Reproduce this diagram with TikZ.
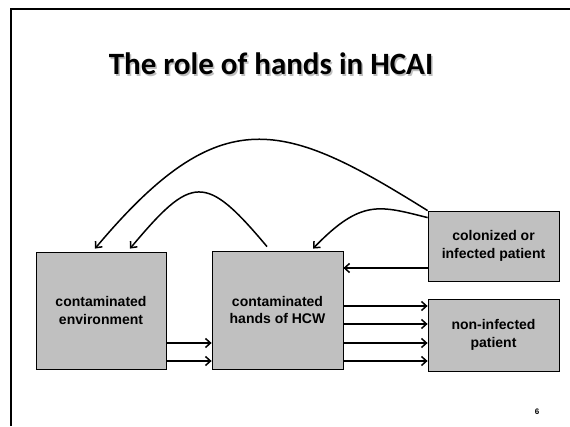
\documentclass[tikz,border=0pt]{standalone}
\usepackage{fontspec}
\setmainfont{Liberation Sans}
\newfontfamily\titlefont{Carlito}
\usetikzlibrary{arrows.meta}
\definecolor{boxgray}{RGB}{192,192,192}
\tikzset{
  box/.style={draw=black, line width=0.8pt, fill=boxgray, inner sep=0pt, align=center,
    font=\bfseries\fontsize{14}{17.5}\selectfont},
  arr/.style={line width=1.5pt, -{Straight Barb[length=5pt,width=9pt]}},
}
\begin{document}
\begin{tikzpicture}[x=1pt,y=1pt]
    \useasboundingbox (0,0) rectangle (570,426);
    % slide frame
    \draw[line width=1.8pt] (11,0) -- (11,417) -- (570,417);

    % title
    \node[anchor=base, text=black!25, font=\titlefont\bfseries\fontsize{31}{36}\selectfont] (titleshadow) at (272.5,349.5) {The role of hands in HCAI};
    \node[anchor=base, font=\titlefont\bfseries\fontsize{31}{36}\selectfont] (title) at (271,351) {The role of hands in HCAI};

    % boxes
    \node[box, minimum width=130pt, minimum height=117pt] (env) at (101,115.5) {contaminated\\environment};
    \node[box, minimum width=131pt, minimum height=118pt] (hands) at (277.5,116) {contaminated\\hands of HCW};
    \node[box, minimum width=131pt, minimum height=70pt] (colon) at (493.5,180) {colonized or\\infected patient};
    \node[box, minimum width=131pt, minimum height=72pt] (noninf) at (493.5,91) {non-infected\\patient};

    % straight arrows
    \foreach \dy in {-32.5,-50.5}
        \draw[arr] ([yshift=\dy pt]env.east) -- ([yshift=\dy pt]env.east -| hands.west);
    \foreach \dy in {4,-14,-33,-51}
        \draw[arr] ([yshift=\dy pt]hands.east) -- ([yshift=\dy pt]hands.east -| noninf.west);
    \draw[arr] ([yshift=-22pt]colon.west) -- ([yshift=-22pt]colon.west -| hands.east);

    % curved arrows
    \draw[arr] ([xshift=-10.5pt,yshift=4pt]hands.north) to[out=130, in=50, looseness=1.8] ([xshift=29pt,yshift=3pt]env.north);
    \draw[arr] (colon.north west) to[out=148, in=50, out looseness=1.3, in looseness=1.5] ([xshift=-6pt,yshift=3pt]env.north);
    \draw[arr] ([yshift=-7pt]colon.north west) to[out=166, in=46, out looseness=1.07, in looseness=1.5] ([xshift=35.5pt,yshift=2pt]hands.north);

    % page number
    \node[font=\bfseries\fontsize{8}{9}\selectfont] (pagenum) at (537,14) {6};
\end{tikzpicture}
\end{document}
